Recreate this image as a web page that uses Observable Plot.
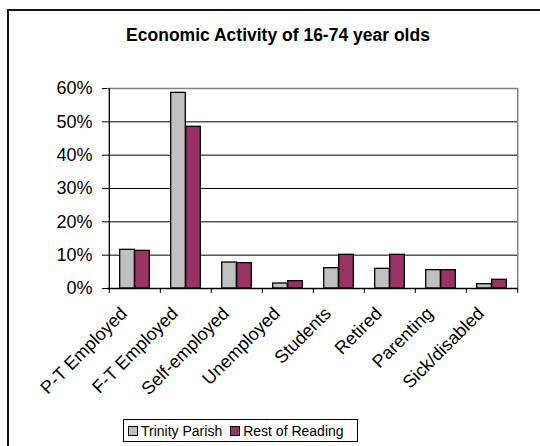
<!DOCTYPE html>
<html>
<head>
<meta charset="utf-8">
<script src="https://cdn.jsdelivr.net/npm/d3@7"></script>
<script src="https://cdn.jsdelivr.net/npm/@observablehq/plot@0.6"></script>
<style>
  html, body { margin: 0; padding: 0; background: #fff; }
  #chart { position: relative; width: 540px; height: 446px; overflow: hidden; font-family: "Liberation Sans", Arial, sans-serif; color: #000; }
  #border { position: absolute; left: 7px; top: 9px; width: 640px; height: 520px; border-left: 2px solid #111; border-top: 2px solid #111; box-sizing: border-box; }
  #title { position: absolute; left: 8px; width: 540px; top: 27px; text-align: center; font-weight: bold; font-size: 17.5px; line-height: 16px; white-space: nowrap; }
  #plot { position: absolute; left: 0; top: 60px; }
  #legend { position: absolute; left: 123px; top: 419px; width: 235px; height: 23px; box-sizing: border-box; border: 1px solid #000; display: flex; align-items: center; padding-left: 4px; font-size: 14px; white-space: nowrap; }
  .item { display: flex; align-items: center; margin-right: 8px; }
  .swatch { width: 8px; height: 8px; border: 1.5px solid #000; margin-right: 3px; }
</style>
</head>
<body>
<div id="chart">
  <div id="border"></div>
  <div id="title"></div>
  <div id="plot"></div>
  <div id="legend"></div>
</div>
<script>
const chartTitle = "Economic Activity of 16-74 year olds";
const categories = ["P-T Employed", "F-T Employed", "Self-employed", "Unemployed", "Students", "Retired", "Parenting", "Sick/disabled"];
const seriesNames = ["Trinity Parish", "Rest of Reading"];
const trinityParish = [0.116, 0.587, 0.078, 0.015, 0.061, 0.059, 0.055, 0.013];
const restOfReading = [0.113, 0.485, 0.076, 0.022, 0.101, 0.101, 0.055, 0.026];
const yTicks = [0, 0.1, 0.2, 0.3, 0.4, 0.5, 0.6];
const seriesColors = ["#C0C0C0", "#993366"];

// long-format rows for the bar marks
const rows = [trinityParish, restOfReading].flatMap((values, s) =>
  categories.map((category, i) => ({category, series: seriesNames[s], value: values[i]}))
);

const width = 540, height = 350;
const marginLeft = 107, marginRight = 22, marginTop = 28, marginBottom = 122;
const bw = (width - marginLeft - marginRight) / categories.length; // band width
const barW = 15;
const groupLeft = (bw - 2 * barW) / 2;

const barsFor = (s) => Plot.barY(rows.filter(d => d.series === seriesNames[s]), {
  x: "category",
  y: "value",
  fill: seriesColors[s],
  stroke: "#000",
  strokeWidth: 1.3,
  insetLeft: groupLeft + s * barW,
  insetRight: bw - groupLeft - (s + 1) * barW
});

const chart = Plot.plot({
  width, height, marginLeft, marginRight, marginTop, marginBottom,
  style: {fontFamily: "'Liberation Sans', Arial, sans-serif", fontSize: "18px", color: "#000", background: "transparent", overflow: "visible"},
  x: {domain: categories, padding: 0, axis: null},
  y: {domain: [0, 0.6], axis: null},
  marks: [
    Plot.ruleY(yTicks.slice(1, -1), {stroke: "#000", strokeWidth: 1}),
    Plot.ruleY([0.6], {stroke: "#808080", strokeWidth: 1.5}),
    Plot.ruleX([categories[categories.length - 1]], {dx: bw / 2, y1: 0, y2: 0.6, stroke: "#808080", strokeWidth: 1.5}),
    barsFor(0),
    barsFor(1),
    Plot.ruleY([0], {stroke: "#000", strokeWidth: 1.3}),
    Plot.ruleX([categories[0]], {dx: -bw / 2, y1: 0, y2: 0.6, stroke: "#000", strokeWidth: 1.3}),
    Plot.axisY({ticks: yTicks, tickFormat: d3.format(".0%"), tickSize: 5, tickPadding: 10, fontSize: 18, label: null}),
    Plot.axisX({tickSize: 5, tickFormat: () => "", dx: -bw / 2, label: null}),
    Plot.axisX([categories[categories.length - 1]], {tickSize: 5, tickFormat: () => "", dx: bw / 2, label: null}),
    Plot.axisX({tickSize: 0, tickPadding: 22, tickRotate: -45, dx: -11, fontSize: 18, label: null})
  ]
});
document.getElementById("plot").appendChild(chart);
document.getElementById("title").textContent = chartTitle;

const legend = document.getElementById("legend");
seriesNames.forEach((name, s) => {
  const item = document.createElement("div");
  item.className = "item";
  const sw = document.createElement("div");
  sw.className = "swatch";
  sw.style.background = seriesColors[s];
  const label = document.createElement("span");
  label.textContent = name;
  item.append(sw, label);
  legend.appendChild(item);
});
</script>
</body>
</html>
